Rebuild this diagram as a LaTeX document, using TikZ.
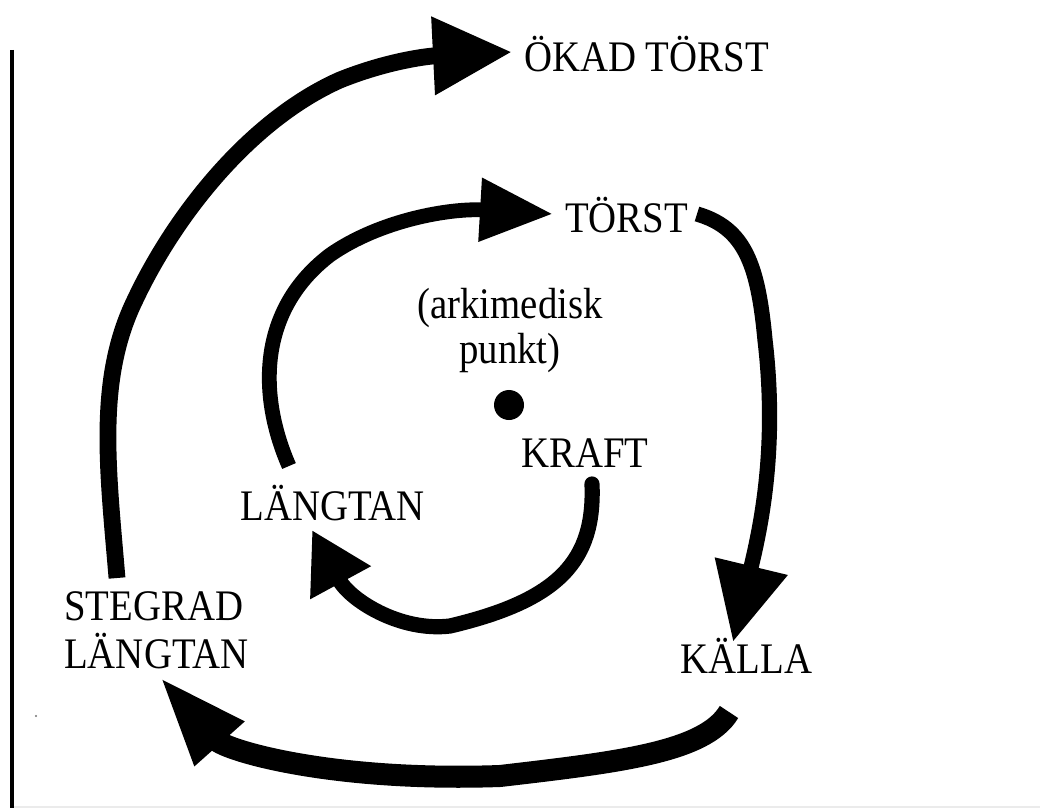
\documentclass[tikz,border=0pt]{standalone}
\usepackage{fontspec}
\setmainfont[FakeStretch=0.89]{Liberation Serif}
\usetikzlibrary{arrows.meta}
\begin{document}
\begin{tikzpicture}[x=0.025cm,y=-0.025cm,
  lbl/.style={inner sep=0pt, font=\fontsize{31pt}{37pt}\selectfont},
  conn/.style={line width=#1, black},
  headA/.style={-{Triangle[length=1.825cm,width=1.5cm]}},
  headB/.style={-{Triangle[length=1.95cm,width=1.77cm]}},
  headC/.style={-{Triangle[length=2.275cm,width=1.5cm]}},
  headD/.style={-{Triangle[length=1.975cm,width=1.85cm]}},
  headE/.style={-{Triangle[length=1.5cm,width=1.62cm]}}]
\useasboundingbox (0,0) rectangle (1040,808);
\fill[white] (0,0) rectangle (1040,808);
% frame lines
\draw[line width=0.1cm] (12,50) -- (12,808);
\draw[black!8, line width=0.05cm] (14,807) -- (1040,807);
\fill[black!55] (36,716) circle[radius=0.03cm];
% labels
\node[lbl, anchor=base] (okad) at (646.5,72) {ÖKAD TÖRST};
\node[lbl, anchor=base] (torst) at (626.5,232) {TÖRST};
\node[lbl, anchor=base] (ark1) at (510,318) {(arkimedisk};
\node[lbl, anchor=base] (ark2) at (510,363) {punkt)};
\node[circle, fill, minimum size=0.75cm, inner sep=0pt] (dot) at (509,405) {};
\node[lbl, anchor=base] (kraft) at (585,467) {KRAFT};
\node[lbl, anchor=base] (langtan) at (332.5,520) {LÄNGTAN};
\node[lbl, anchor=base west] (steg1) at (64,620) {STEGRAD};
\node[lbl, anchor=base west] (steg2) at (64,668) {LÄNGTAN};
\node[lbl, anchor=base] (kalla) at (746.5,673) {KÄLLA};
% connector end points
\coordinate (a0) at (289,466);
\coordinate (a1) at (553,214);
\coordinate (b0) at (697,214);
\coordinate (b1) at (733,642);
\coordinate (c0) at (729,712);
\coordinate (c1) at (159,676);
\coordinate (d0) at (117,578);
\coordinate (d1) at (512,52);
\coordinate (e0) at (592,484);
\coordinate (e1) at (312,530);
% inner: LÄNGTAN -> TÖRST
\draw[conn=0.37cm, headA] (a0) .. controls (258,395) and (258,310) .. (330,255)
  .. controls (380,220) and (450,208) .. (a1);
% TÖRST -> KÄLLA
\draw[conn=0.38cm, headB] (b0) .. controls (745,228) and (758,265) .. (765,340)
  .. controls (778,450) and (760,530) .. (b1);
% KÄLLA -> STEGRAD LÄNGTAN
\draw[conn=0.55cm, headC] (c0) .. controls (705,752) and (620,762) .. (500,776)
  .. controls (330,782) and (225,750) .. (c1);
% STEGRAD LÄNGTAN -> ÖKAD TÖRST
\draw[conn=0.42cm, headD] (d0) .. controls (108,470) and (96,380) .. (135,300)
  .. controls (175,215) and (250,120) .. (340,80)
  .. controls (390,60) and (430,56) .. (d1);
% KRAFT -> LÄNGTAN
\draw[conn=0.38cm, headE, line cap=round] (e0) .. controls (595,560) and (560,600) .. (450,626)
  .. controls (400,632) and (350,600) .. (e1);
\end{tikzpicture}
\end{document}
